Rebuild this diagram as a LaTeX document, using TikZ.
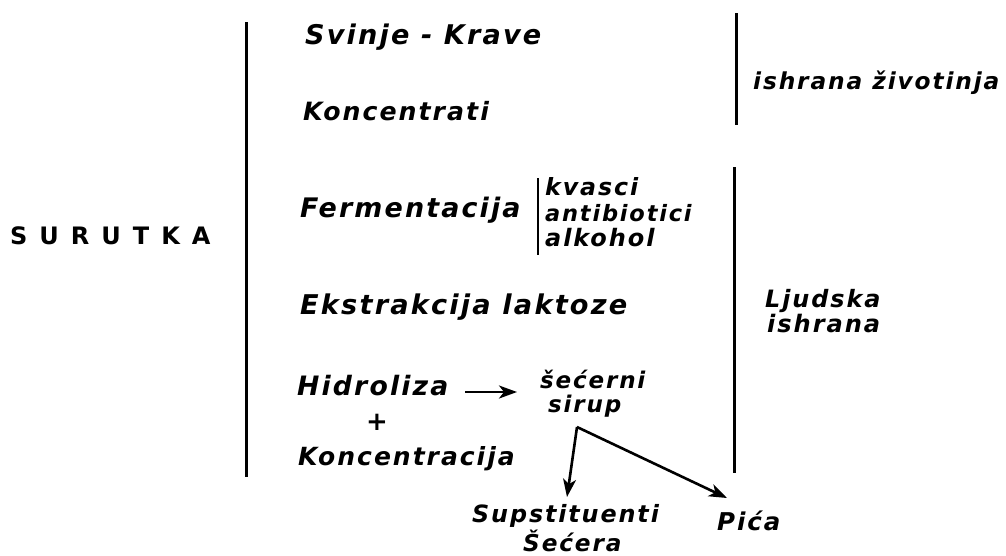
\documentclass[tikz,border=0pt]{standalone}
\usepackage{fontspec}
\setmainfont{DejaVu Sans}
\newfontfamily\hand[LetterSpace=8]{DejaVu Sans}
\usetikzlibrary{calc,arrows.meta}
\tikzset{
  hw/.style={inner sep=0pt, anchor=base west, font=\hand\bfseries\itshape\fontsize{#1}{#1}\selectfont},
  bar/.style={line width=3pt},
  thinbar/.style={line width=2.4pt},
  arr/.style={line width=2.6pt, -{Stealth[length=18pt,width=13pt,inset=5pt]}}
}
\begin{document}
\begin{tikzpicture}[x=1pt,y=-1pt]
\useasboundingbox (0,0) rectangle (1006,555);
% title
\node[inner sep=0pt, anchor=base west, font=\bfseries\fontsize{24}{24}\selectfont] (sur) at (10,244) {\spaceskip=12pt S U R U T K A};
% brackets
\draw[bar] (246,22) -- (246,477);
\draw[bar] (736,13) -- (736,125);
\draw[bar] (734,167) -- (734,473);
\draw[thinbar] (538,178) -- (538,255);
% middle column
\node[hw=27.1] (sv) at (305,44) {Svinje - Krave};
\node[hw=25.2] (ko1) at (303,120) {Koncentrati};
\node[hw=26.9] (fe) at (300,217) {Fermentacija};
\node[hw=23.7] (kv) at (545,195) {kvasci};
\node[hw=22.5] (an) at (545,221) {antibiotici};
\node[hw=24] (al) at (545,246) {alkohol};
\node[hw=27.2] (ek) at (300,314) {Ekstrakcija laktoze};
\node[hw=26.7] (hi) at (297,395) {Hidroliza};
\node[inner sep=0pt, anchor=center, font=\bfseries\fontsize{26}{26}\selectfont] (pl) at (377,422) {+};
\node[hw=25] (ko2) at (298,465) {Koncentracija};
\node[hw=23] (se) at (540,388) {šećerni};
\node[hw=23] (si) at (548,412) {sirup};
\node[hw=23.8] (su) at (472,522) {Supstituenti};
\node[hw=23.2] (sc) at (523,551) {Šećera};
\node[hw=24.5] (pi) at (717,530) {Pića};
% right column
\node[hw=23.3] (iz) at (753,89) {ishrana životinja};
\node[hw=23.9] (lj) at (765,307) {Ljudska};
\node[hw=24.1] (is) at (767,332) {ishrana};
% connectors
\coordinate (h1) at ($(hi.base east)+(17,-3)$);
\coordinate (h2) at ($(se.base west)+(-23,4)$);
\draw[arr] (h1) -- (h2);
\coordinate (apex) at ($(si.base west)+(29,15)$);
\coordinate (e1) at ($(su.base west)+(95,-25)$);
\coordinate (e2) at ($(pi.base west)+(10,-32)$);
\draw[arr] (apex) -- (e1);
\draw[arr] (apex) -- (e2);
\end{tikzpicture}
\end{document}
